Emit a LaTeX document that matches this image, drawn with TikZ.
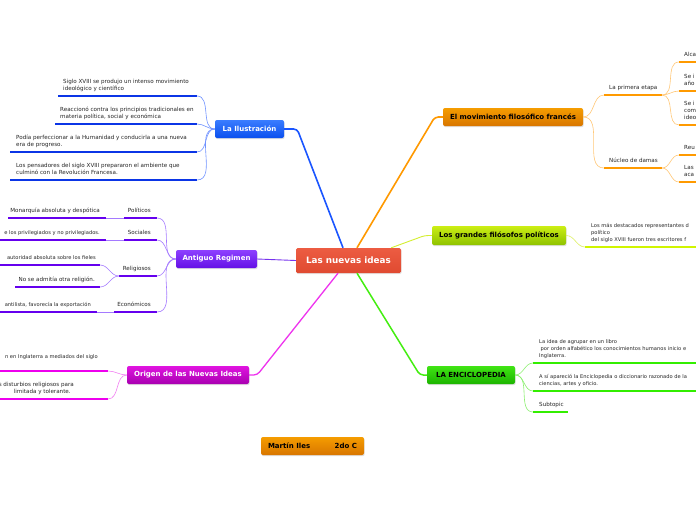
\documentclass[tikz,border=0pt]{standalone}
\usepackage{fontspec}
\setmainfont{DejaVu Sans}
\usetikzlibrary{calc,shadows}
\definecolor{cRedT}{HTML}{EC5C42}
\definecolor{cRedB}{HTML}{E04A31}
\definecolor{bluT}{HTML}{3A7CFF}
\definecolor{bluB}{HTML}{0A4FEE}
\definecolor{bluL}{HTML}{0B35E6}
\definecolor{bluW}{HTML}{7092FF}
\definecolor{bluK}{HTML}{1A55FF}
\definecolor{purT}{HTML}{8D40FF}
\definecolor{purB}{HTML}{6410E6}
\definecolor{purL}{HTML}{6500EE}
\definecolor{purW}{HTML}{A57AFF}
\definecolor{purK}{HTML}{7733EE}
\definecolor{oraT}{HTML}{F59C00}
\definecolor{oraB}{HTML}{D87600}
\definecolor{oraL}{HTML}{FF9A00}
\definecolor{oraW}{HTML}{FFC878}
\definecolor{oraK}{HTML}{FF9900}
\definecolor{ygrT}{HTML}{CCEE14}
\definecolor{ygrB}{HTML}{8EC200}
\definecolor{ygrL}{HTML}{D0F500}
\definecolor{ygrW}{HTML}{DDF060}
\definecolor{ygrK}{HTML}{D4EE30}
\definecolor{grnT}{HTML}{40E414}
\definecolor{grnB}{HTML}{1CB400}
\definecolor{grnL}{HTML}{33EE00}
\definecolor{grnW}{HTML}{8CF070}
\definecolor{grnK}{HTML}{44EE11}
\definecolor{magT}{HTML}{E014E0}
\definecolor{magB}{HTML}{A800B0}
\definecolor{magL}{HTML}{EE00EE}
\definecolor{magW}{HTML}{F280F2}
\definecolor{magK}{HTML}{EE33EE}
\colorlet{ucol}{black}
\colorlet{wcol}{black}
\newcommand\leafL[7][]{%
  \coordinate (#2-l) at (#3,#5);
  \coordinate (#2-r) at (#4,#5);
  \node[leaf, #1, anchor=south west] (#2) at (#6-5,#5) {#7};
  \draw[uline] (#2-l) -- (#2-r);
}
\newcommand\leafR[7][]{%
  \coordinate (#2-l) at (#3,#5);
  \coordinate (#2-r) at (#4,#5);
  \node[leaf, #1, anchor=south east] (#2) at (#6+5,#5) {#7};
  \draw[uline] (#2-l) -- (#2-r);
}
\begin{document}
\begin{tikzpicture}[x=1pt,y=-1pt,
  leaf/.style={font=\fontsize{5.6}{7.3}\selectfont, text=black!85, inner xsep=5pt, inner ysep=5pt, text depth=0pt, align=left},
  edge text/.style={font=\fontsize{5.15}{7.3}\selectfont},
  uline/.style={draw=ucol, line width=2.4pt},
  twig/.style={draw=wcol, line width=0.6pt},
  trunk/.style={line width=#1, rounded corners=3.5pt},
  topic/.style 2 args={rounded corners=2pt, minimum height=18pt, inner sep=0pt,
    top color=#1, bottom color=#2, draw=none,
    font=\bfseries\fontsize{7}{8}\selectfont,
    drop shadow={shadow xshift=0.6pt, shadow yshift=-1.2pt, opacity=0.25}},
]
\useasboundingbox (0,0) rectangle (696,520);
\clip (0,0) rectangle (696,520);
\fill[white] (0,0) rectangle (696,520);

% central and main topics
\node[rounded corners=1.5pt, minimum width=105pt, minimum height=25pt, inner sep=0pt,
  top color=cRedT, bottom color=cRedB, text=white,
  font=\bfseries\fontsize{8.8}{10}\selectfont,
  drop shadow={shadow xshift=0.6pt, shadow yshift=-1.2pt, opacity=0.2}] (ctr) at (348.5,260.5) {Las nuevas ideas};
\node[topic={bluT}{bluB}, text=white, minimum width=69pt] (ilus) at (249.5,129) {La Ilustración};
\node[topic={oraT}{oraB}, text=black, minimum width=140pt] (mov) at (513,117) {El movimiento filosófico francés};
\node[topic={ygrT}{ygrB}, text=black, minimum width=134pt, minimum height=19pt] (gran) at (499,235.5) {Los grandes filósofos políticos};
\node[topic={grnT}{grnB}, text=black, minimum width=88pt] (enc) at (471,375) {LA ENCICLOPEDIA};
\node[topic={magT}{magB}, text=white, minimum width=122pt] (orig) at (188,375) {Origen de las Nuevas Ideas};
\node[topic={purT}{purB}, text=white, minimum width=81pt] (ant) at (216.5,259) {Antiguo Regimen};
\node[topic={oraT}{oraB}, text=black, minimum width=103pt] (mar) at (312.5,446) {\makebox[89pt][s]{Martín Iles\hfill 2do C}};

% trunks from the centre
\coordinate (sb) at ($(ctr.north)+(-5.5,0)$);
\coordinate (kb) at ($(ilus.east)+(13,0)$);
\draw[trunk=1.6pt, draw=bluK] (sb) -- (kb) -- (ilus.east);
\coordinate (so) at ($(ctr.north)+(8.5,0)$);
\coordinate (ko) at ($(mov.west)+(-8,0)$);
\draw[trunk=1.6pt, draw=oraK] (so) -- (ko) -- (mov.west);
\coordinate (sy) at ($(ctr.north east)+(-10,0)$);
\coordinate (ky) at ($(gran.west)+(-7,0)$);
\draw[trunk=0.9pt, draw=ygrK] (sy) -- (ky) -- (gran.west);
\draw[line width=0.9pt, draw=purK] (ctr.west) -- (ant.east);
\coordinate (sm) at ($(ctr.south)+(-10.5,0)$);
\coordinate (km) at ($(orig.east)+(8,0)$);
\draw[trunk=1.3pt, draw=magK] (sm) -- (km) -- (orig.east);
\coordinate (sg) at ($(ctr.south)+(8.5,0)$);
\coordinate (kg) at ($(enc.west)+(-7,0)$);
\draw[trunk=1.5pt, draw=grnK] (sg) -- (kg) -- (enc.west);

% La Ilustracion
\begin{scope}
\colorlet{ucol}{bluL}\colorlet{wcol}{bluW}
\leafL{i1}{58}{197}{96}{63}{Siglo XVIII se produjo un intenso movimiento\\ideológico y científico}
\leafL{i2}{55}{197}{124}{60}{Reaccionó contra los principios tradicionales en\\materia política, social y económica}
\leafL{i3}{10}{197}{152}{16}{Podía perfeccionar a la Humanidad y conducirla a una nueva\\era de progreso.}
\leafL{i4}{10}{197}{180}{16}{Los pensadores del siglo XVIII prepararon el ambiente que\\culminó con la Revolución Francesa.}
\foreach \n in {i1,i2,i3,i4} \draw[twig] (ilus.west) to[out=180,in=0] (\n-r);
\end{scope}

% Antiguo Regimen
\begin{scope}
\colorlet{ucol}{purL}\colorlet{wcol}{purW}
\leafR{p1}{124}{157}{218}{151}{Políticos}
\leafR{p1a}{8}{106}{218}{100}{Monarquía absoluta y despótica}
\leafR{p2}{124}{157}{240}{151}{Sociales}
\leafR[edge text]{p2a}{0}{106}{240}{100}{e los privilegiados y no privilegiados.}
\leafR{p3}{119}{157}{276}{151}{Religiosos}
\leafR[edge text]{p3a}{0}{100}{265}{96}{autoridad absoluta sobre los fieles}
\leafR{p3b}{15}{100}{287}{95}{No se admitía otra religión.}
\leafR{p4}{114}{157}{312}{151}{Económicos}
\leafR[edge text]{p4a}{0}{97}{312}{91}{antilista, favorecía la exportación}
\foreach \n in {p1,p2,p3,p4} \draw[twig] (ant.west) to[out=180,in=0] (\n-r);
\draw[twig] (p1-l) -- (p1a-r);
\draw[twig] (p2-l) -- (p2a-r);
\draw[twig] (p4-l) -- (p4a-r);
\draw[twig] (p3-l) to[out=180,in=0] (p3a-r);
\draw[twig] (p3-l) to[out=180,in=0] (p3b-r);
\end{scope}

% Origen de las Nuevas Ideas
\begin{scope}
\colorlet{ucol}{magL}\colorlet{wcol}{magW}
\leafR[edge text]{o1}{0}{108}{371}{98}{n en Inglaterra a mediados del siglo\\~}
\leafR{o2}{0}{108}{399}{74}{s disturbios religiosos para\\\hspace*{15pt}limitada y tolerante.}
\foreach \n in {o1,o2} \draw[twig] (orig.west) to[out=180,in=0] (\n-r);
\end{scope}

% El movimiento filosofico frances
\begin{scope}
\colorlet{ucol}{oraL}\colorlet{wcol}{oraW}
\leafL{m1}{604}{662}{95}{609}{La primera etapa}
\leafL{m2}{604}{662}{168}{609}{Núcleo de damas}
\leafL{m1a}{679}{700}{62}{684}{Alca}
\leafL{m1b}{679}{700}{91}{684}{Se i\\año}
\leafL{m1c}{679}{700}{125}{684}{Se i\\com\\ideo}
\leafL{m2a}{679}{700}{155}{684}{Reu}
\leafL{m2b}{679}{700}{182}{684}{Las\\aca}
\foreach \n in {m1,m2} \draw[twig] (mov.east) to[out=0,in=180] (\n-l);
\foreach \n in {m1a,m1b,m1c} \draw[twig] (m1-r) to[out=0,in=180] (\n-l);
\foreach \n in {m2a,m2b} \draw[twig] (m2-r) to[out=0,in=180] (\n-l);
\end{scope}

% Los grandes filosofos politicos
\begin{scope}
\colorlet{ucol}{ygrL}\colorlet{wcol}{ygrW}
\leafL[edge text]{g1}{585}{700}{247}{591}{Los más destacados representantes d\\político\\del siglo XVIII fueron tres escritores f}
\draw[twig] (gran.east) to[out=0,in=180] (g1-l);
\end{scope}

% LA ENCICLOPEDIA
\begin{scope}
\colorlet{ucol}{grnL}\colorlet{wcol}{grnW}
\leafL[edge text]{e1}{533}{700}{363}{539}{La idea de agrupar en un libro\\\hspace*{1.5pt}por orden alfabético los conocimientos humanos inicio e\\Inglaterra.}
\leafL[edge text]{e2}{533}{700}{391}{539}{A sí apareció la Enciclopedia o diccionario razonado de la\\ciencias, artes y oficio.}
\leafL{e3}{533}{568}{412}{539}{Subtopic}
\foreach \n in {e1,e2,e3} \draw[twig] (enc.east) to[out=0,in=180] (\n-l);
\end{scope}
\end{tikzpicture}
\end{document}
